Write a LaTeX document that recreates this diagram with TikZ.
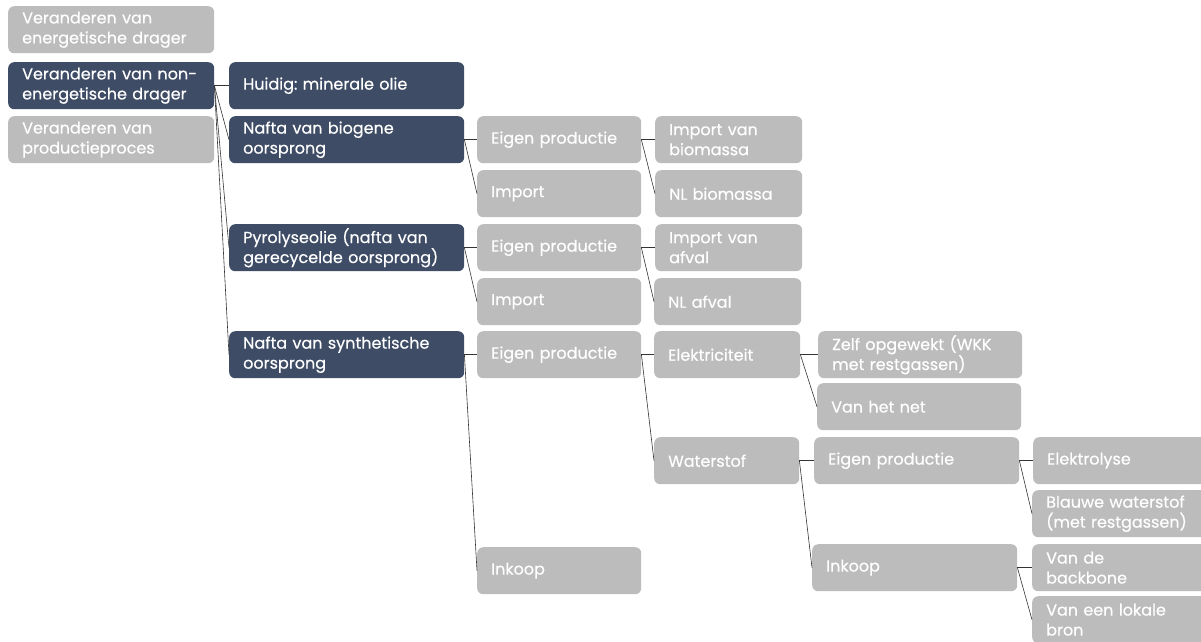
\documentclass[tikz,border=0pt]{standalone}
\usepackage{fontspec}
\setmainfont{Poppins}[Ligatures=NoCommon, FakeBold=0.4]
\frenchspacing
\definecolor{navy}{HTML}{3E4C66}
\definecolor{lgrey}{HTML}{BCBCBC}
\begin{document}
\begin{tikzpicture}[x=1pt,y=-1pt,
  box/.style={rounded corners=6pt, minimum height=47pt, inner xsep=14pt, inner ysep=0pt,
    anchor=north west, align=left, text=white, font=\fontsize{16}{20}\selectfont},
  dark/.style={box, fill=navy},
  grey/.style={box, fill=lgrey},
  link/.style={draw=black!80, line width=0.6pt}]
\clip (0,0) rectangle (1201,641);
\fill[white] (0,0) rectangle (1201,641);
% column 1
\node[grey, text width=178pt] (c1a) at (8,6) {Veranderen van\\energetische drager};
\node[dark, text width=178pt] (c1b) at (8,62) {Veranderen van non-\\energetische drager};
\node[grey, text width=178pt] (c1c) at (8,116) {Veranderen van\\productieproces};
% column 2
\node[dark, text width=207pt] (hu) at (229,62) {Huidig: minerale olie};
\node[dark, text width=207pt] (bio) at (229,116) {Nafta van biogene\\oorsprong};
\node[dark, text width=207pt] (pyr) at (229,224) {Pyrolyseolie (nafta van\\gerecycelde oorsprong)};
\node[dark, text width=207pt] (syn) at (229,331) {Nafta van synthetische\\oorsprong};
% column 3
\node[grey, text width=136pt] (bioE) at (477,116) {Eigen productie};
\node[grey, text width=136pt] (bioI) at (477,170) {Import};
\node[grey, text width=136pt] (pyrE) at (477,224) {Eigen productie};
\node[grey, text width=136pt] (pyrI) at (477,278) {Import};
\node[grey, text width=136pt] (synE) at (477,331) {Eigen productie};
\node[grey, text width=136pt] (synI) at (477,547) {Inkoop};
% column 4
\node[grey, text width=119pt] (bmI) at (655,116) {Import van\\biomassa};
\node[grey, text width=119pt] (bmN) at (655,170) {NL biomassa};
\node[grey, text width=119pt] (afI) at (655,224) {Import van\\afval};
\node[grey, text width=119pt] (afN) at (654,278) {NL afval};
\node[grey, text width=118pt] (el) at (654,331) {Elektriciteit};
\node[grey, text width=117pt] (ws) at (654,437) {Waterstof};
% column 5
\node[grey, text width=176pt] (zelf) at (818,331) {Zelf opgewekt (WKK\\met restgassen)};
\node[grey, text width=176pt] (net) at (817,383) {Van het net};
\node[grey, text width=177pt] (wsE) at (814,437) {Eigen productie};
\node[grey, text width=177pt] (wsI) at (812,544) {Inkoop};
% column 6
\node[grey, text width=160pt] (ely) at (1033,437) {Elektrolyse};
\node[grey, text width=160pt] (blw) at (1032,490) {Blauwe waterstof\\(met restgassen)};
\node[grey, text width=160pt] (bb) at (1032,544) {Van de\\backbone};
\node[grey, text width=160pt] (lok) at (1032,596) {Van een lokale\\bron};
% connectors
\foreach \p/\c in {c1b/hu, c1b/bio, c1b/pyr, c1b/syn,
  bio/bioE, bio/bioI, pyr/pyrE, pyr/pyrI, syn/synE, syn/synI,
  bioE/bmI, bioE/bmN, pyrE/afI, pyrE/afN, synE/el, synE/ws,
  el/zelf, el/net, ws/wsE, ws/wsI, wsE/ely, wsE/blw, wsI/bb, wsI/lok}
  \draw[link] (\p.east) -- (\c.west);
\end{tikzpicture}
\end{document}
